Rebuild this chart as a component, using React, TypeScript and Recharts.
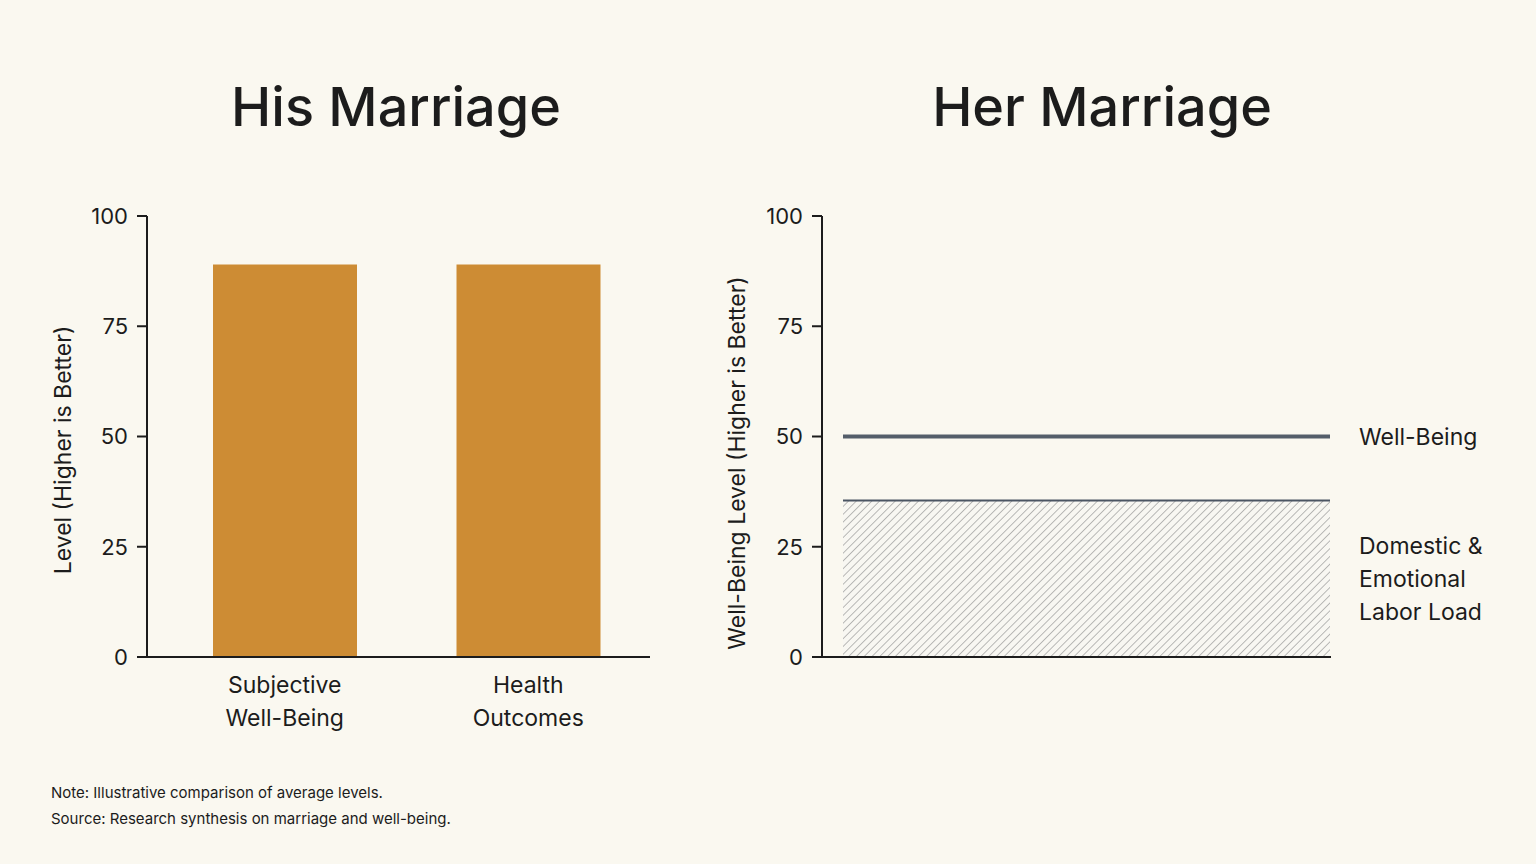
import { BarChart, Bar, ComposedChart, Line, Area, XAxis, YAxis, ReferenceLine } from "recharts";

// palette
const BG = "#FAF8F0";
const INK = "#1c1c1c";
const GOLD = "#CD8C34";
const SLATE = "#545E6A";
const FONT = "Inter, 'Noto Sans', sans-serif";

// left panel data
const hisCategories = ["Subjective\nWell-Being", "Health\nOutcomes"];
const hisValues = [89, 89];

// right panel data
const herPeriods = [0, 1];
const herWellBeing = [50, 50];
const herLaborLoad = [35.5, 35.5];

const yTicks = [0, 25, 50, 75, 100];

const hisData = hisCategories.map((name, i) => ({ name, value: hisValues[i] }));
const herData = herPeriods.map((p, i) => ({
  p,
  wellBeing: herWellBeing[i],
  laborLoad: herLaborLoad[i],
}));

const CategoryTick = ({ x, y, payload }: any) => {
  const lines = String(payload.value).split("\n");
  return (
    <text x={x} y={y} textAnchor="middle" fontSize={23} fill={INK} fontFamily={FONT}>
      {lines.map((l, i) => (
        <tspan key={i} x={x} dy={i === 0 ? 36 : 33}>
          {l}
        </tspan>
      ))}
    </text>
  );
};

const axisLabel = (text: string, cx: number, cy: number) => () =>
  (
    <text
      x={cx}
      y={cy}
      transform={`rotate(-90 ${cx} ${cy})`}
      textAnchor="middle"
      dominantBaseline="central"
      fontSize={23}
      fill={INK}
      fontFamily={FONT}
    >
      {text}
    </text>
  );

const sideLabel = (lines: string[]) => (props: any) => {
  const vb = props.viewBox || {};
  const x = vb.x + vb.width + 28;
  const y = vb.y;
  const start = -((lines.length - 1) * 33) / 2;
  return (
    <text x={x} y={y} fontSize={23} fill={INK} fontFamily={FONT} dominantBaseline="central">
      {lines.map((l, i) => (
        <tspan key={i} x={x} y={y + start + i * 33}>
          {l}
        </tspan>
      ))}
    </text>
  );
};

const tickStyle = { fontSize: 22, fill: INK, fontFamily: FONT };

const titleStyle = {
  position: "absolute" as const,
  top: 80,
  textAlign: "center" as const,
  fontSize: 54,
  fontWeight: 500,
  lineHeight: 1,
};

export default function App() {
  return (
    <div
      style={{
        position: "absolute",
        left: 0,
        top: 0,
        width: 1536,
        height: 864,
        background: BG,
        fontFamily: FONT,
        color: INK,
        overflow: "hidden",
      }}
    >
      <div style={{ position: "absolute", left: 0, top: 0 }}>
        <BarChart
          width={680}
          height={864}
          data={hisData}
          margin={{ top: 216, right: 30, bottom: 0, left: 0 }}
        >
          <XAxis
            dataKey="name"
            height={207}
            padding={{ left: 16, right: 0 }}
            axisLine={{ stroke: INK, strokeWidth: 2 }}
            tickLine={false}
            tickSize={0}
            tickMargin={0}
            tick={<CategoryTick />}
            interval={0}
          />
          <YAxis
            width={147}
            domain={[0, 100]}
            ticks={yTicks}
            axisLine={{ stroke: INK, strokeWidth: 2 }}
            tickLine={{ stroke: INK, strokeWidth: 2 }}
            tickSize={10}
            tickMargin={9}
            tick={tickStyle}
            label={{ content: axisLabel("Level (Higher is Better)", 63, 450) }}
          />
          <Bar dataKey="value" fill={GOLD} barSize={144} isAnimationActive={false} />
        </BarChart>
      </div>

      <div style={{ position: "absolute", left: 680, top: 0 }}>
        <ComposedChart
          width={856}
          height={864}
          data={herData}
          margin={{ top: 216, right: 205, bottom: 0, left: 0 }}
        >
          <defs>
            <pattern
              id="hatch"
              patternUnits="userSpaceOnUse"
              width={5.5}
              height={5.5}
              patternTransform="rotate(45)"
            >
              <rect width={5.5} height={5.5} fill="#F8F7F2" />
              <line x1={0} y1={0} x2={0} y2={5.5} stroke="#858585" strokeWidth={1.1} />
            </pattern>
          </defs>
          <XAxis
            dataKey="p"
            type="number"
            domain={[0, 1]}
            height={207}
            padding={{ left: 21, right: 1 }}
            axisLine={{ stroke: INK, strokeWidth: 2 }}
            tickLine={false}
            tick={false}
          />
          <YAxis
            width={142}
            domain={[0, 100]}
            ticks={yTicks}
            axisLine={{ stroke: INK, strokeWidth: 2 }}
            tickLine={{ stroke: INK, strokeWidth: 2 }}
            tickSize={10}
            tickMargin={9}
            tick={tickStyle}
            label={{ content: axisLabel("Well-Being Level (Higher is Better)", 57, 463) }}
          />
          <Area
            type="linear"
            dataKey="laborLoad"
            stroke="#4B5563"
            strokeWidth={2}
            fill="url(#hatch)"
            fillOpacity={1}
            isAnimationActive={false}
          />
          <Line
            type="linear"
            dataKey="wellBeing"
            stroke={SLATE}
            strokeWidth={4}
            dot={false}
            isAnimationActive={false}
          />
          <ReferenceLine
            y={herWellBeing[herWellBeing.length - 1]}
            stroke="none"
            label={{ content: sideLabel(["Well-Being"]) }}
          />
          <ReferenceLine
            y={herLaborLoad[herLaborLoad.length - 1] / 2}
            stroke="none"
            label={{ content: sideLabel(["Domestic &", "Emotional", "Labor Load"]) }}
          />
        </ComposedChart>
      </div>

      <div style={{ ...titleStyle, left: 0, width: 792 }}>His Marriage</div>
      <div style={{ ...titleStyle, left: 702, width: 800 }}>Her Marriage</div>

      <div style={{ position: "absolute", left: 51, top: 785, fontSize: 15, lineHeight: 1 }}>
        Note: Illustrative comparison of average levels.
      </div>
      <div style={{ position: "absolute", left: 51, top: 811, fontSize: 15, lineHeight: 1 }}>
        Source: Research synthesis on marriage and well-being.
      </div>
    </div>
  );
}
